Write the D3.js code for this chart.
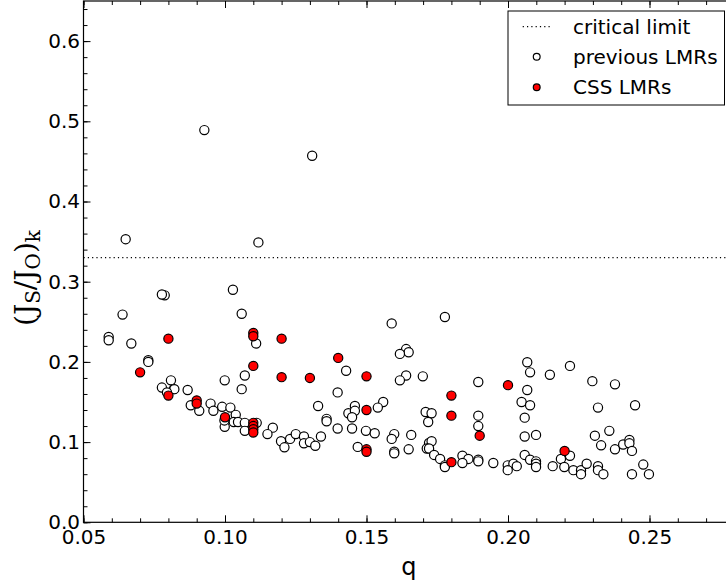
<!DOCTYPE html>
<html>
<head>
<meta charset="utf-8">
<script src="https://cdn.jsdelivr.net/npm/d3@7"></script>
<style>
  html, body { margin: 0; padding: 0; background: #fff; }
  svg { display: block; }
  text { font-family: "DejaVu Sans", sans-serif; }
</style>
</head>
<body>
<div id="chart"></div>
<script>
// ---- data ----
const criticalLimit = 0.33;
const xTicks = [0.05, 0.10, 0.15, 0.20, 0.25];
const yTicks = [0.0, 0.1, 0.2, 0.3, 0.4, 0.5, 0.6];
const legendLabels = ["critical limit", "previous LMRs", "CSS LMRs"];

const previousLMRs = [
  [0.0927,0.489],[0.1308,0.457],[0.0649,0.353],[0.1118,0.349],
  [0.0787,0.283],[0.0777,0.284],[0.1028,0.290],[0.0638,0.259],
  [0.0589,0.231],[0.0589,0.227],[0.0669,0.223],[0.0729,0.202],[0.0729,0.200],
  [0.0809,0.177],[0.0777,0.168],[0.0819,0.166],[0.0821,0.166],[0.0795,0.162],
  [0.0868,0.165],[0.0999,0.177],[0.0879,0.146],[0.0909,0.139],[0.0949,0.148],
  [0.0959,0.139],[0.0990,0.144],[0.1019,0.143],[0.0999,0.119],[0.0998,0.127],
  [0.1038,0.134],[0.1031,0.125],[0.1046,0.125],[0.1070,0.124],[0.1070,0.114],
  [0.1059,0.166],[0.1070,0.183],[0.1059,0.260],[0.1110,0.223],
  [0.1428,0.189],[0.1398,0.162],[0.1329,0.145],[0.1359,0.129],[0.1359,0.126],
  [0.1398,0.117],[0.1436,0.136],[0.1112,0.124],[0.1169,0.118],[0.1150,0.110],
  [0.1198,0.101],[0.1210,0.0935],[0.1230,0.104],[0.1250,0.110],[0.1279,0.107],
  [0.1279,0.0985],[0.1300,0.100],[0.1319,0.0955],[0.1339,0.107],
  [0.1777,0.256],[0.1589,0.248],[0.1640,0.216],[0.1649,0.212],[0.1618,0.210],
  [0.1640,0.183],[0.1618,0.177],[0.1699,0.182],[0.1895,0.175],
  [0.1559,0.150],[0.1540,0.143],[0.1459,0.145],[0.1459,0.139],[0.1449,0.131],
  [0.1709,0.1375],[0.1730,0.136],[0.1718,0.125],[0.1895,0.133],[0.1895,0.120],
  [0.1449,0.117],[0.1498,0.114],[0.1529,0.111],[0.1598,0.110],[0.1589,0.104],
  [0.1658,0.109],[0.1721,0.099],[0.1730,0.101],[0.1713,0.092],[0.1721,0.092],
  [0.1469,0.094],[0.1598,0.088],[0.1598,0.086],[0.1649,0.091],[0.1739,0.084],
  [0.1760,0.079],[0.1777,0.071],[0.1777,0.069],[0.1839,0.083],[0.1860,0.079],
  [0.1839,0.074],[0.1895,0.078],[0.1895,0.076],
  [0.2068,0.1995],[0.2219,0.195],[0.2078,0.187],[0.2148,0.184],[0.2298,0.176],
  [0.2378,0.172],[0.2068,0.165],[0.2048,0.150],[0.2078,0.146],[0.2318,0.143],
  [0.2449,0.146],[0.2059,0.1305],[0.2059,0.107],[0.2099,0.109],[0.2307,0.108],
  [0.2358,0.114],[0.2329,0.096],[0.2378,0.091],[0.2407,0.097],[0.2429,0.1026],
  [0.2429,0.0985],[0.2438,0.089],[0.2219,0.083],[0.2187,0.079],[0.2059,0.084],
  [0.2078,0.078],[0.2099,0.076],[0.2099,0.073],[0.2099,0.069],[0.1948,0.074],
  [0.1999,0.071],[0.2019,0.073],[0.2031,0.070],[0.1999,0.065],[0.2158,0.070],
  [0.2199,0.069],[0.2231,0.065],[0.2258,0.065],[0.2258,0.060],[0.2278,0.073],
  [0.2318,0.070],[0.2318,0.065],[0.2337,0.060],[0.2478,0.072],[0.2438,0.060],
  [0.2498,0.060]
];

const cssLMRs = [
  [0.07,0.187],[0.08,0.229],[0.08,0.158],[0.09,0.152],[0.09,0.148],[0.10,0.131],
  [0.11,0.236],[0.11,0.232],[0.11,0.195],[0.11,0.124],[0.11,0.120],[0.11,0.116],
  [0.11,0.112],[0.12,0.229],[0.12,0.181],[0.13,0.180],[0.14,0.205],[0.15,0.182],
  [0.15,0.140],[0.15,0.091],[0.15,0.088],[0.18,0.158],[0.18,0.133],[0.18,0.075],
  [0.19,0.108],[0.20,0.171],[0.22,0.089]
];

// ---- layout ----
const W = 726, H = 585;
const pL = 83.5, pR = 734.4, pT = 1, pB = 522.3;

const svg = d3.select("#chart").append("svg")
  .attr("width", W).attr("height", H);

const x = d3.scaleLinear().domain([0.05, 0.28]).range([pL, pR]);
const y = d3.scaleLinear().domain([0, 0.65]).range([pB, pT]);

const xMinor = d3.range(0.05, 0.2801, 0.01);
const yMinor = d3.range(0, 0.6501, 0.02);

// minor ticks
function minorAxis(gen, scale, vals, transform) {
  const g = svg.append("g").attr("transform", transform)
    .call(gen(scale).tickValues(vals).tickSize(-4).tickFormat(""));
  g.select(".domain").remove();
  g.selectAll("line").attr("stroke", "#000").attr("stroke-width", 1);
}
minorAxis(d3.axisBottom, x, xMinor, `translate(0,${pB})`);
minorAxis(d3.axisTop, x, xMinor, `translate(0,${pT})`);
minorAxis(d3.axisLeft, y, yMinor, `translate(${pL},0)`);
minorAxis(d3.axisRight, y, yMinor, `translate(${pR},0)`);

// major ticks
const gx = svg.append("g").attr("transform", `translate(0,${pB})`)
  .call(d3.axisBottom(x).tickValues(xTicks).tickSize(-7).tickPadding(8).tickFormat(d3.format(".2f")));
const gxt = svg.append("g").attr("transform", `translate(0,${pT})`)
  .call(d3.axisTop(x).tickValues(xTicks).tickSize(-7).tickFormat(""));
const gy = svg.append("g").attr("transform", `translate(${pL},0)`)
  .call(d3.axisLeft(y).tickValues(yTicks).tickSize(-7).tickPadding(3.5).tickFormat(d3.format(".1f")));
const gyr = svg.append("g").attr("transform", `translate(${pR},0)`)
  .call(d3.axisRight(y).tickValues(yTicks).tickSize(-7).tickFormat(""));
[gx, gxt, gy, gyr].forEach(g => {
  g.select(".domain").remove();
  g.selectAll("line").attr("stroke", "#000").attr("stroke-width", 1);
  g.selectAll("text").attr("fill", "#000")
    .style("font-family", "'DejaVu Sans', sans-serif").style("font-size", "20px");
});

// frame
svg.append("rect")
  .attr("x", pL).attr("y", pT)
  .attr("width", pR - pL).attr("height", pB - pT)
  .attr("fill", "none").attr("stroke", "#000").attr("stroke-width", 1.2);

// critical limit
svg.append("line")
  .attr("x1", pL).attr("x2", pR)
  .attr("y1", y(criticalLimit)).attr("y2", y(criticalLimit))
  .attr("stroke", "#000").attr("stroke-width", 1.2)
  .attr("stroke-dasharray", "1.2,3.1");

// points
svg.append("g").selectAll("circle").data(previousLMRs).join("circle")
  .attr("cx", d => x(d[0])).attr("cy", d => y(d[1])).attr("r", 4.6)
  .attr("fill", "#fff").attr("stroke", "#000").attr("stroke-width", 1.2);
svg.append("g").selectAll("circle").data(cssLMRs).join("circle")
  .attr("cx", d => x(d[0])).attr("cy", d => y(d[1])).attr("r", 4.6)
  .attr("fill", "#ff0000").attr("stroke", "#000").attr("stroke-width", 1.2);

// axis labels
svg.append("text")
  .attr("x", (pL + pR) / 2).attr("y", 575)
  .attr("text-anchor", "middle")
  .style("font-size", "24px").text("q");

const yl = svg.append("text")
  .attr("transform", `translate(35,278) rotate(-90)`)
  .attr("text-anchor", "middle")
  .style("font-family", "'DejaVu Serif', serif").style("font-size", "28px");
yl.append("tspan").text("(J");
yl.append("tspan").attr("dy", 5).style("font-size", "20px").text("S");
yl.append("tspan").attr("dy", -5).text("/J");
yl.append("tspan").attr("dy", 5).style("font-size", "20px").text("O");
yl.append("tspan").attr("dy", -5).text(")");
yl.append("tspan").attr("dy", 5).style("font-size", "20px").text("k");

// legend
const lg = svg.append("g");
lg.append("rect").attr("x", 508).attr("y", 11).attr("width", 216.5).attr("height", 94)
  .attr("fill", "#fff").attr("stroke", "#000").attr("stroke-width", 1);
const rowY = [26.7, 56.7, 87.3];
lg.append("line").attr("x1", 522.7).attr("x2", 550).attr("y1", rowY[0]).attr("y2", rowY[0])
  .attr("stroke", "#000").attr("stroke-width", 1.2).attr("stroke-dasharray", "1.2,3.1");
lg.append("circle").attr("cx", 536.7).attr("cy", rowY[1]).attr("r", 3.4)
  .attr("fill", "#fff").attr("stroke", "#000").attr("stroke-width", 1.2);
lg.append("circle").attr("cx", 536.7).attr("cy", rowY[2]).attr("r", 3.4)
  .attr("fill", "#ff0000").attr("stroke", "#000").attr("stroke-width", 1.2);
lg.selectAll("text.lab").data(legendLabels).join("text").attr("class", "lab")
  .attr("x", 573).attr("y", (d, i) => rowY[i]).attr("dy", "0.35em")
  .style("font-size", "20px").text(d => d);
</script>
</body>
</html>
